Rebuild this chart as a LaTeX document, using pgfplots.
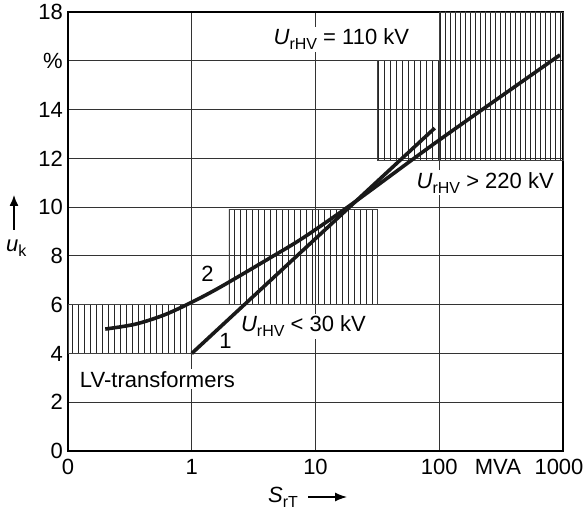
\documentclass[border=0pt]{standalone}
\usepackage{pgfplots}
\pgfplotsset{compat=1.18}
\usetikzlibrary{patterns.meta,arrows.meta}
\usepackage{fontspec}
\setmainfont{Liberation Sans}
\newcommand\fs{\fontsize{22}{26}\selectfont}
\newcommand\sub[1]{\raisebox{-5pt}{\fontsize{16}{16}\selectfont #1}}
\begin{document}
\begin{tikzpicture}
\path[use as bounding box] (0,0) rectangle (583pt,509pt);
\begin{axis}[
  at={(68pt,58pt)}, anchor=south west,
  width=495pt, height=439pt, scale only axis,
  xmode=log, log basis x=10,
  xmin=0.1, xmax=1000, ymin=0, ymax=18,
  xtick={0.1,1,10,100,1000}, xticklabels={0,1,10,100,\hspace*{-8pt}1000},
  ytick={0,2,...,18}, yticklabels={0,2,4,6,8,10,12,14,\%,18},
  extra x ticks={298}, extra x tick labels={MVA}, extra x tick style={grid=none},
  grid=major, major grid style={black!80, line width=0.8pt},
  major tick length=0pt,
  axis line style={line width=1.5pt},
  tick label style={font=\fs, inner sep=0pt},
  xticklabel style={yshift=-8pt},
  yticklabel style={xshift=-5pt},
  /pgf/number format/assume math mode=true,
  clip=false,
]
% hatched ranges
\addplot[draw=black!75, line width=0.7pt, pattern={Lines[angle=90,distance=6pt,line width=0.9pt]}, pattern color=black!85]
  coordinates {(0.1,4) (1,4) (1,6) (0.1,6)} -- cycle;
\addplot[draw=black!75, line width=0.7pt, pattern={Lines[angle=90,distance=6pt,line width=0.9pt]}, pattern color=black!85]
  coordinates {(2,6) (31.5,6) (31.5,9.9) (2,9.9)} -- cycle;
\addplot[draw=black!75, line width=0.7pt, pattern={Lines[angle=90,distance=6pt,line width=0.9pt]}, pattern color=black!85]
  coordinates {(31.5,11.9) (100,11.9) (100,16) (31.5,16)} -- cycle;
\addplot[draw=black!75, line width=0.7pt, pattern={Lines[angle=90,distance=5pt,line width=0.9pt]}, pattern color=black!85]
  coordinates {(100,11.9) (1000,11.9) (1000,18) (100,18)} -- cycle;
% labels
\node[fill=white, inner sep=2pt, anchor=base west, font=\fs] at (axis cs:4.4,16.65) {\textit{U}\sub{rHV} = 110 kV};
\node[fill=white, inner sep=2pt, anchor=base west, font=\fs] at (axis cs:63,10.78) {\textit{U}\sub{rHV} > 220 kV};
\node[fill=white, inner sep=2pt, anchor=base west, font=\fs] at (axis cs:2.4,4.88) {\textit{U}\sub{rHV} < 30 kV};
\node[fill=white, inner sep=2pt, anchor=base west, font=\fs] at (axis cs:0.12,2.62) {LV-transformers};
\node[anchor=base, font=\fs, inner sep=0pt] at (axis cs:1.87,4.22) {1};
\node[anchor=base, font=\fs, inner sep=0pt] at (axis cs:1.34,6.97) {2};
% curve 1
\addplot[line width=3.6pt, black!90] coordinates {(1,4.0) (91.9,13.24)};
% curve 2
\addplot[line width=3.6pt, black!90, smooth, tension=0.5] coordinates {
  (0.2,5.0) (0.35,5.2) (0.6,5.58) (1,6.1) (1.7,6.72) (4.3,7.92) (8,8.75) (20,10.15) (100,12.75) (946,16.24)};
\end{axis}
\node[anchor=base west, font=\fs, inner sep=0pt] at (6pt,257pt) {\textit{u}\sub{k}};
\draw[-{Latex[length=11pt,width=9pt]}, line width=1.3pt] (14pt,279pt) -- (14pt,314pt);
\node[anchor=base west, font=\fs, inner sep=0pt] at (268pt,7pt) {\textit{S}\sub{rT}};
\draw[-{Latex[length=12pt,width=9pt]}, line width=1.3pt] (308pt,12pt) -- (347pt,12pt);
\end{tikzpicture}
\end{document}
